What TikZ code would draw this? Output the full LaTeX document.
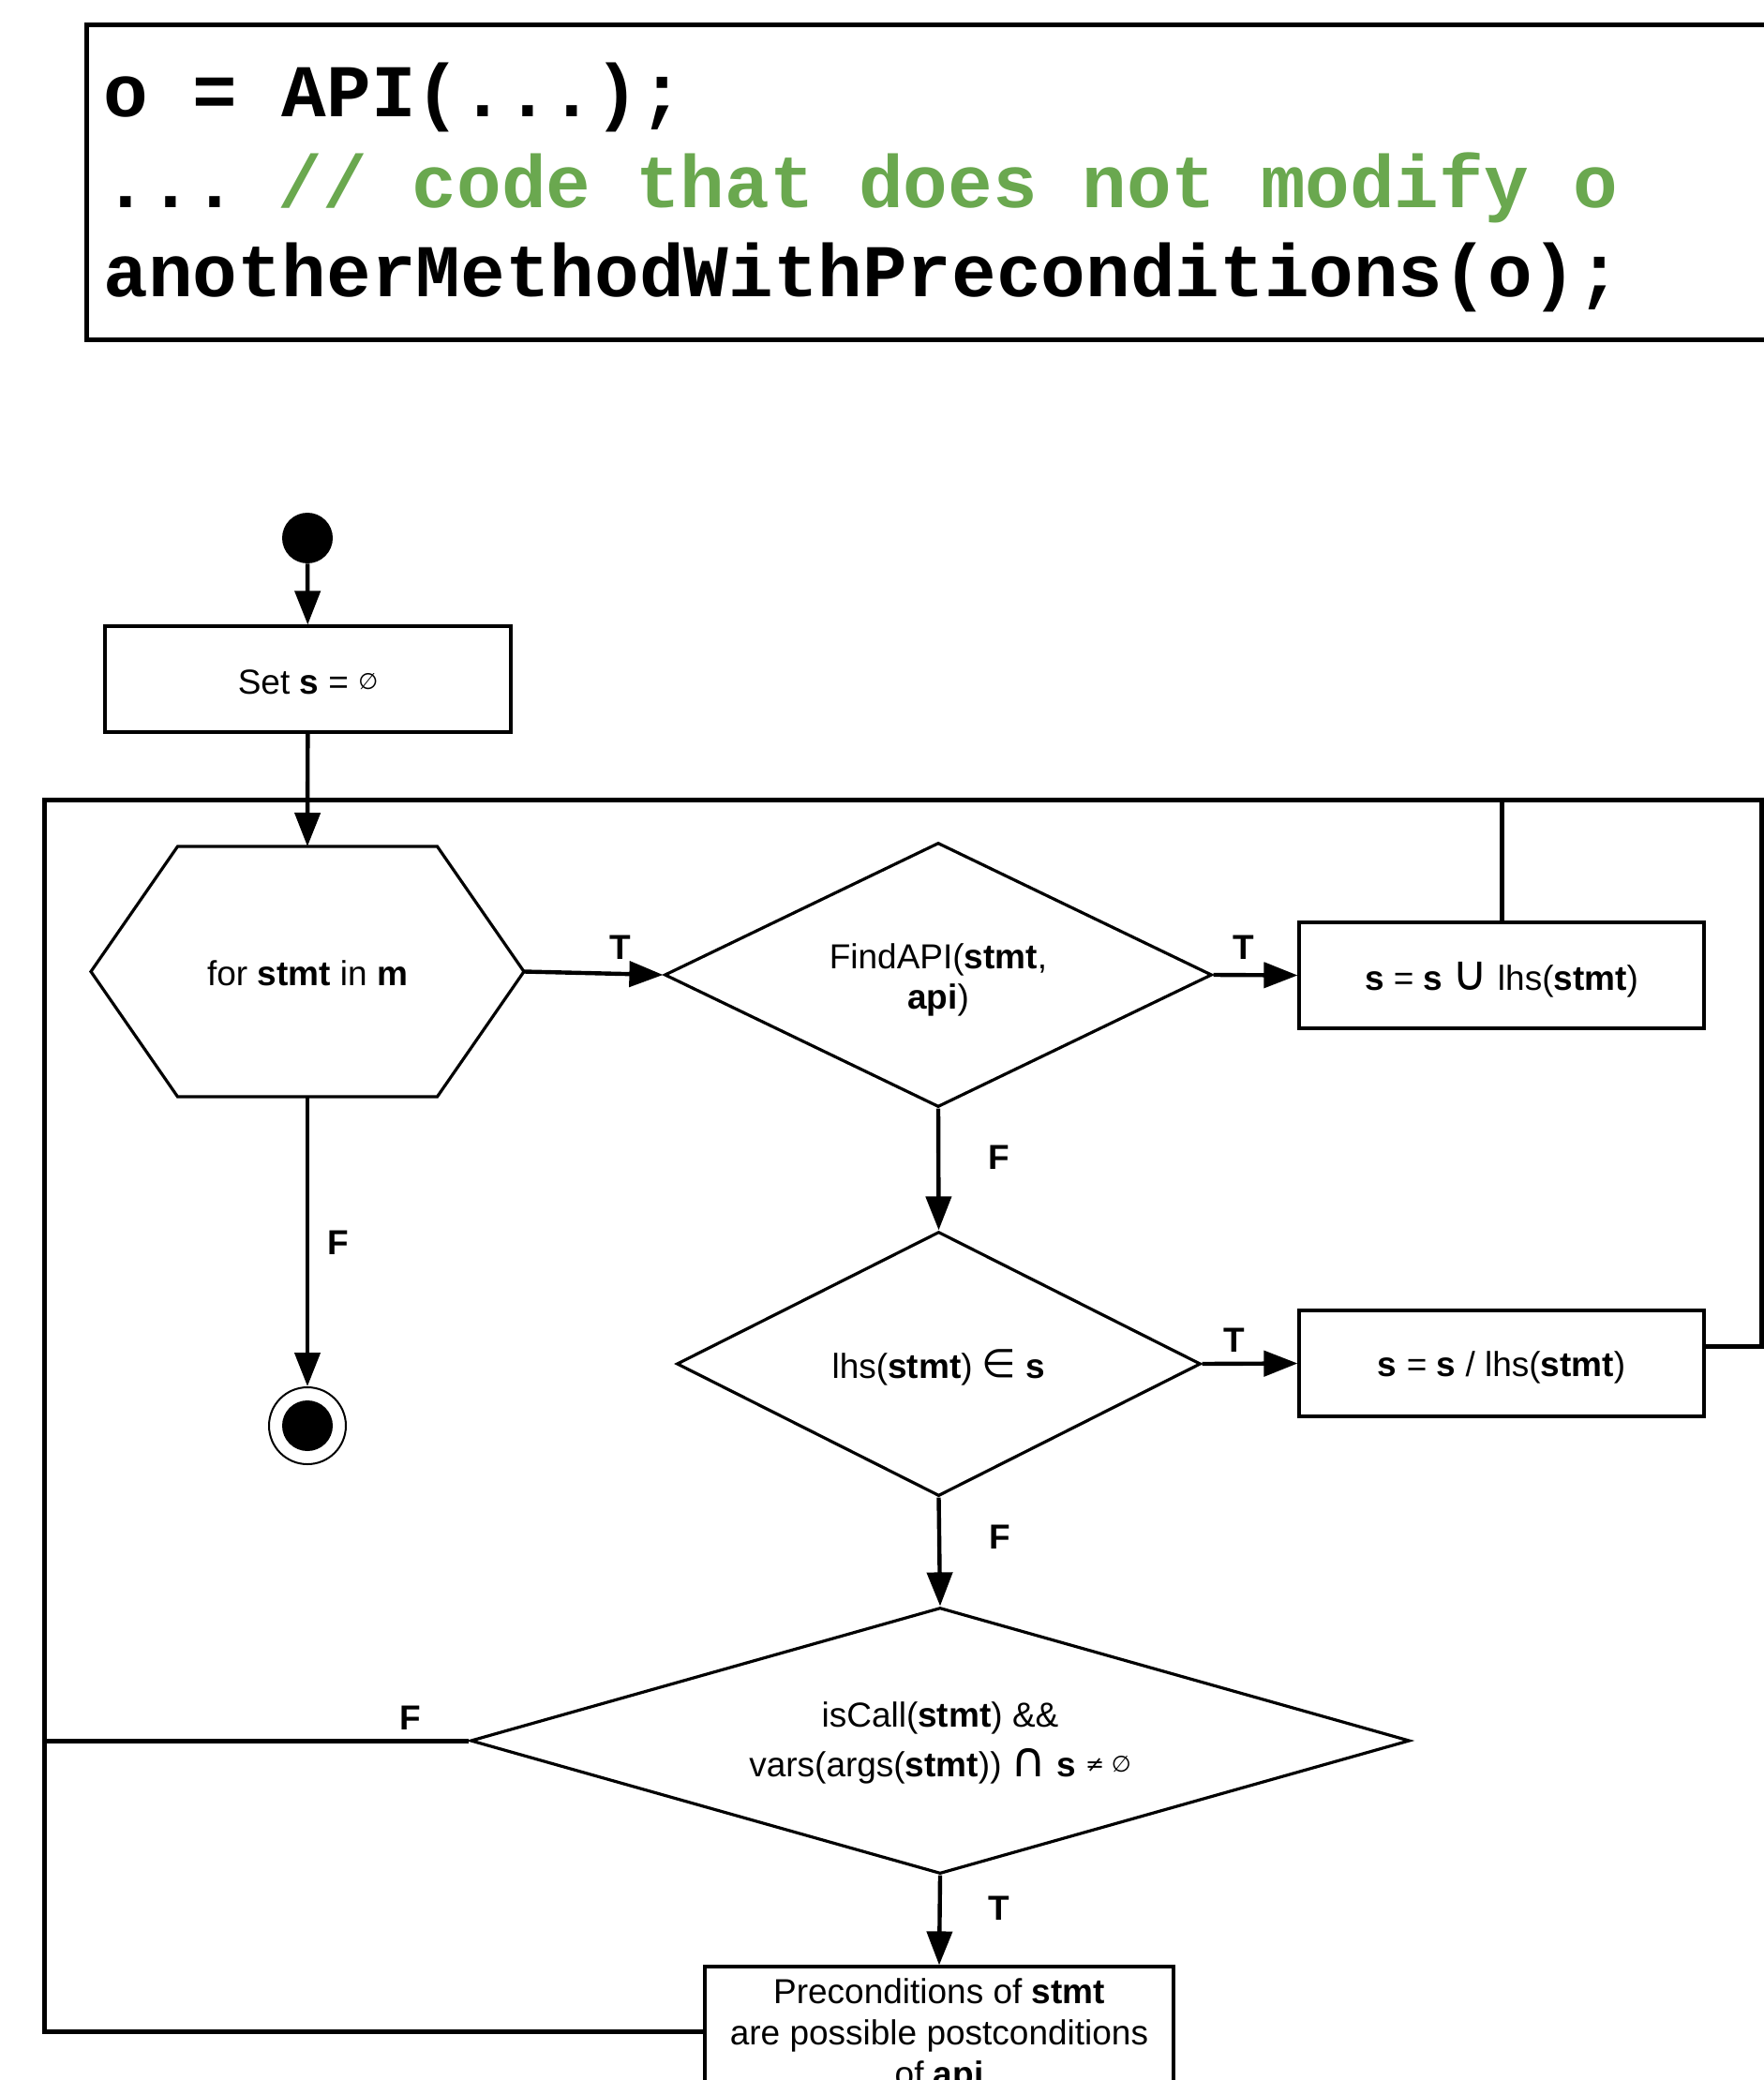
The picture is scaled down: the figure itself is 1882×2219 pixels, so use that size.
\documentclass[tikz,border=0pt]{standalone}
\usepackage{fontspec}
\setmainfont{Liberation Sans}
\newfontfamily\codefont{Liberation Mono}
\newfontfamily\djvfont{DejaVu Sans}
\usetikzlibrary{arrows.meta,shapes.geometric,calc}
\definecolor{codegreen}{RGB}{106,168,79}
\newcommand{\djvU}{{\djvfont\fontsize{26}{26}\selectfont ∪}}
\newcommand{\djvI}{{\djvfont\fontsize{26}{26}\selectfont ∩}}
\newcommand{\djvIn}{\raisebox{0.5pt}{\djvfont\fontsize{21}{21}\selectfont ∈}}
\newcommand{\djvEmpty}{\raisebox{2.5pt}{\djvfont\fontsize{12}{12}\selectfont ∅}}
\newcommand{\djvNeEmpty}{\raisebox{2.5pt}{\djvfont\fontsize{12}{12}\selectfont ≠ ∅}}
\begin{document}
\begin{tikzpicture}[x=0.5pt,y=-0.5pt,
  txt/.style={font=\fontsize{18.5}{21.5}\selectfont, inner sep=0pt, align=center},
  box/.style={draw, line width=1.6pt, rectangle, inner sep=0pt},
  dia/.style={draw, line width=1.6pt, diamond, inner sep=0pt},
  conn/.style={line width=2.2pt, -{Triangle[width=13.5pt,length=18pt]}},
  loopline/.style={line width=2.5pt},
  lbl/.style={font=\fontsize{18.5}{21.5}\selectfont\bfseries, inner sep=0pt},
  codeline/.style={anchor=base west, inner sep=0pt, font=\codefont\bfseries\fontsize{39.7}{47}\selectfont}
]
\useasboundingbox (0,0) rectangle (1882,2219);
\clip (0,0) rectangle (1882,2219);

% code box
\node[draw, line width=2.5pt, rectangle, inner sep=0pt, anchor=north west,
      minimum width=930pt, minimum height=168pt] (codebox) at (90,24) {};
\node[codeline] (code1) at (110,125) {o = API(...);};
\node[codeline] (code2) at (110,222) {...\kern-2pt\ \textcolor{codegreen}{// code that does not modify o}};
\node[codeline] (code3) at (110,317) {anotherMethodWithPreconditions(o);};

% flowchart shapes
\node[circle, fill, minimum size=27pt, inner sep=0pt] (start) at (328,574) {};
\node[box, minimum width=216.5pt, minimum height=56.5pt] (set) at (328.5,724.5) {};
\node[rectangle, inner sep=0pt, outer sep=0pt, minimum width=231pt, minimum height=133.5pt] (hex) at (328,1036.5) {};
\draw[line width=1.6pt] (hex.west) -- ([xshift=46.25pt]hex.north west) -- ([xshift=-46.25pt]hex.north east)
  -- (hex.east) -- ([xshift=-46.25pt]hex.south east) -- ([xshift=46.25pt]hex.south west) -- cycle;
\node[dia, minimum width=292pt, minimum height=141pt] (d1) at (1001,1040) {};
\node[box, minimum width=216pt, minimum height=56.5pt] (union) at (1602,1040.5) {};
\node[dia, minimum width=279.5pt, minimum height=141pt] (d2) at (1001.5,1455) {};
\node[box, minimum width=216pt, minimum height=56.5pt] (minus) at (1602,1454.5) {};
\node[dia, minimum width=501pt, minimum height=142pt] (d3) at (1003,1857) {};
\node[box, minimum width=250pt, minimum height=69pt] (post) at (1002,2167) {};
\node[circle, draw, line width=1pt, minimum size=41pt, inner sep=0pt] (endc) at (328,1521) {};
\node[circle, fill, minimum size=27pt, inner sep=0pt] (endin) at (endc) {};

% texts
\node[txt] (sett) at ($(set)+(0,3)$) {Set \textbf{s} = \djvEmpty};
\node[txt] (hext) at ($(hex)+(0,2)$) {for \textbf{stmt} in \textbf{m}};
\node[txt] (d1t) at ($(d1)+(0,5)$) {FindAPI(\textbf{stmt},\\\textbf{api})};
\node[txt] (uniont) at ($(union)+(0,5)$) {\textbf{s} = \textbf{s} \djvU\ lhs(\textbf{stmt})};
\node[txt] (d2t) at ($(d2)+(0,4)$) {lhs(\textbf{stmt}) \djvIn\ \textbf{s}};
\node[txt] (minust) at ($(minus)+(0,4)$) {\textbf{s} = \textbf{s} / lhs(\textbf{stmt})};
\node[txt, font=\fontsize{18.5}{26.5}\selectfont] (d3t) at ($(d3)+(0,2)$) {isCall(\textbf{stmt}) \&\&\\vars(args(\textbf{stmt})) \djvI\ \textbf{s} \djvNeEmpty};
\node[txt, font=\fontsize{18.5}{22}\selectfont] (postt) at ($(post)+(0,5)$) {Preconditions of \textbf{stmt}\\are possible postconditions\\of \textbf{api}};

% connectors
\draw[conn] (start) -- (set);
\draw[conn] (set) -- (hex.north);
\draw[conn] (hex.east) -- (d1.west);
\draw[conn] (d1.east) -- (union.west);
\draw[conn] (d1.south) -- (d2.north);
\draw[conn] (d2.east) -- (minus.west);
\draw[conn] (d2.south) -- (d3.north);
\draw[conn] (d3.south) -- (post.north);
\draw[conn] (hex.south) -- (endc.north);

% loop lines
\coordinate (lt) at (47,853);
\coordinate (rt) at (1879,853);
\draw[loopline] (union.north) -- (union.north |- rt);
\draw[loopline] ($(minus.east)+(0,-18)$) -| (rt) -- (lt) -- (lt |- post.west) -- (post.west);
\draw[loopline] (d3.west) -- (lt |- d3.west);

% labels
\node[lbl] (l1) at (662,1011) {T};
\node[lbl] (l2) at (1327,1011) {T};
\node[lbl] (l3) at (1066,1235) {F};
\node[lbl] (l4) at (361,1326) {F};
\node[lbl] (l5) at (1317,1430) {T};
\node[lbl] (l6) at (1067,1640) {F};
\node[lbl] (l7) at (438,1833) {F};
\node[lbl] (l8) at (1066,2036) {T};
\end{tikzpicture}
\end{document}
